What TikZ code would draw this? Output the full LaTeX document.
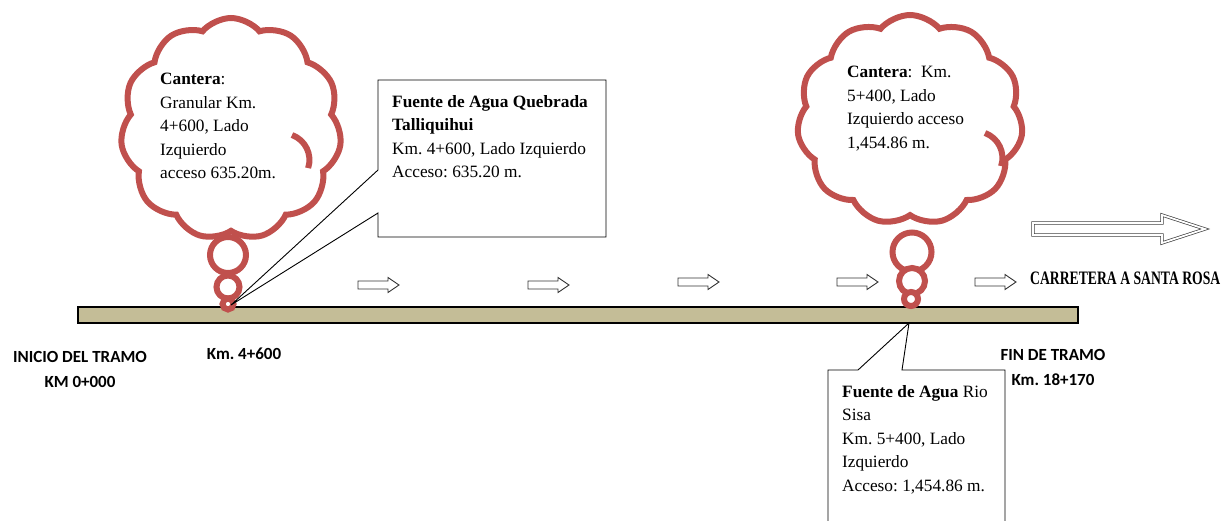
\documentclass[tikz,border=0pt]{standalone}
\usepackage{fontspec}
\setmainfont{Liberation Serif}
\newfontfamily\calibri{Carlito}
\usetikzlibrary{shapes.symbols}
\definecolor{cloudred}{HTML}{C0504D}
\definecolor{roadtan}{HTML}{C4BD97}
\frenchspacing
\tikzset{
  thought/.style={cloud, cloud puffs=11, cloud puff arc=100, draw=cloudred, line width=6pt, fill=white, inner sep=0pt},
  bubble/.style={draw=cloudred, line width=6pt, fill=white, circle, inner sep=0pt},
  sertext/.style={inner sep=0pt, anchor=north west, align=left, font=\fontsize{17.3}{23.5}\selectfont},
  sanslabel/.style={inner sep=0pt, align=center, font=\calibri\bfseries\fontsize{17}{25}\selectfont},
  callbox/.style={draw=black, line width=0.9pt, fill=white},
  smallarrow/.style={draw=black!80, line width=0.9pt, fill=white},
}
\begin{document}
\begin{tikzpicture}[x=1pt,y=-1pt]
\useasboundingbox (0,0) rectangle (1228,520);
% road
\draw[fill=roadtan, line width=1.6pt] (78,307) rectangle (1078,323);
\coordinate (tip1) at (231,305);
\coordinate (tip2) at (909,323);
% small direction arrows
\foreach \x/\y in {358/285, 528/285, 678/282, 837/282, 975/282}{
  \draw[smallarrow] (\x,\y-4) -- (\x+30,\y-4) -- (\x+30,\y-7.5) -- (\x+41,\y) -- (\x+30,\y+7.5) -- (\x+30,\y+4) -- (\x,\y+4) -- cycle;
}
% big arrow
\draw[draw=black!75, double=white, double distance=1.8pt, line width=0.7pt, line join=miter]
  (1033,223) -- (1162,223) -- (1162,215) -- (1205,229) -- (1162,243) -- (1162,235) -- (1033,235) -- cycle;
% cloud 1
\node[bubble, minimum size=36pt] (b11) at (228,255) {};
\node[bubble, minimum size=23pt] (b12) at (228,287) {};
\node[bubble, minimum size=11pt] (b13) at (228,304) {};
\node[thought, minimum width=221pt, minimum height=222pt] (c1) at (231,129) {};
\draw[cloudred, line width=6pt] (292,135) arc[start angle=70, end angle=-18, radius=26.5pt];
\node[sertext] (t1) at (160,73) {\textbf{Cantera}:\\Granular Km.\\4+600, Lado\\Izquierdo\\acceso 635.20m.};
% cloud 2
\node[bubble, minimum size=39pt] (b21) at (912,252) {};
\node[bubble, minimum size=26pt] (b22) at (912,281) {};
\node[bubble, minimum size=14pt] (b23) at (911,299) {};
\node[thought, minimum width=226pt, minimum height=210pt] (c2) at (910,120) {};
\draw[cloudred, line width=6pt] (985,133) arc[start angle=70, end angle=-18, radius=26.5pt];
\node[sertext] (t2) at (847,66) {\textbf{Cantera}:~ Km.\\5+400, Lado\\Izquierdo acceso\\1,454.86 m.};
% callout 1
\draw[callbox] (378,80) -- (606,80) -- (606,237) -- (378,237) -- (378,213) -- (tip1) -- (378,170) -- cycle;
\node[sertext] (t3) at (392,95) {\textbf{Fuente de Agua Quebrada}\\\textbf{Talliquihui}\\Km. 4+600, Lado Izquierdo\\Acceso: 635.20 m.};
% callout 2
\draw[callbox] (828,522) -- (828,370) -- (858,370) -- (tip2) -- (902,370) -- (1005,370) -- (1005,522);
\node[sertext] (t4) at (842,385) {\textbf{Fuente de Agua} Rio\\Sisa\\Km. 5+400, Lado\\Izquierdo\\Acceso: 1,454.86 m.};
% labels
\node[sanslabel] (inicio) at (80,369) {INICIO DEL TRAMO\\KM 0+000};
\node[sanslabel] (km46) at (244,354) {Km. 4+600};
\node[sanslabel] (fin) at (1053,367) {FIN DE TRAMO\\Km. 18+170};
\node[inner sep=0pt, anchor=west] (carr) at (1030,278) {\scalebox{0.72}[1]{\fontsize{19}{22}\selectfont\bfseries CARRETERA A SANTA ROSA}};
\end{tikzpicture}
\end{document}
